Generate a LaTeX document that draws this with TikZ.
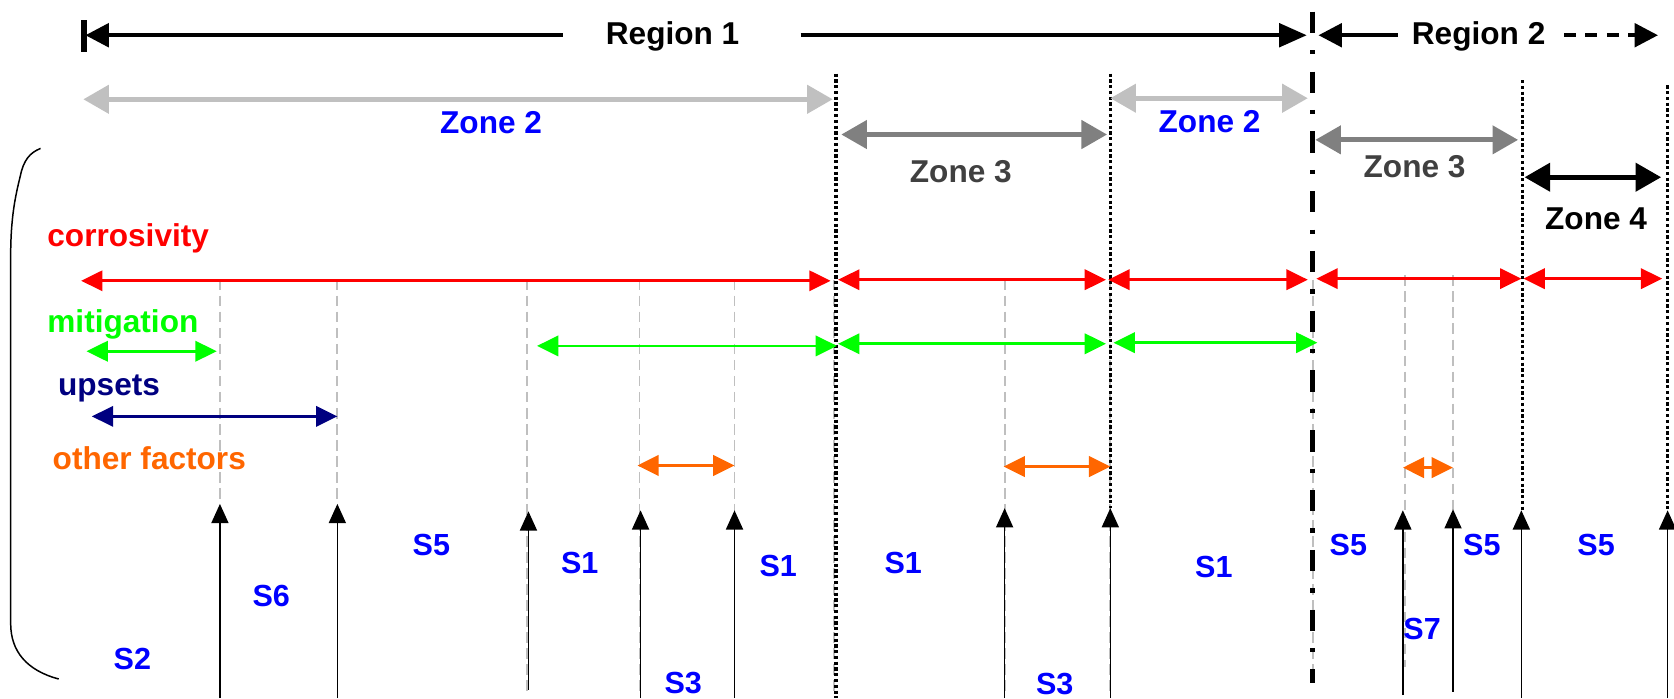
\documentclass[tikz,border=0pt]{standalone}
\usepackage{fontspec}
\setmainfont{Liberation Sans}
\usetikzlibrary{arrows.meta}
\definecolor{zlight}{HTML}{C0C0C0}
\definecolor{zmid}{HTML}{808080}
\definecolor{ztext}{HTML}{404040}
\definecolor{sblue}{HTML}{0000FF}
\definecolor{cred}{HTML}{FF0000}
\definecolor{cgreen}{HTML}{00FF00}
\definecolor{cnavy}{HTML}{000080}
\definecolor{corange}{HTML}{FF6600}
\definecolor{gdash}{HTML}{BFBFBF}
\begin{document}
\begin{tikzpicture}[x=0.5pt,y=-0.5pt,
  lbl/.style={font=\bfseries\fontsize{14.8}{17}\selectfont, inner sep=0pt},
  slbl/.style={font=\bfseries\fontsize{14.3}{17}\selectfont, inner sep=0pt, text=sblue},
  regline/.style={line width=1.9pt},
  zonearrow/.style={line width=2.4pt, {Triangle[length=12pt,width=13pt]}-{Triangle[length=12pt,width=13pt]}},
  factor/.style={line width=1.3pt, {Triangle[length=10pt,width=9.5pt]}-{Triangle[length=10pt,width=9.5pt]}},
  uparrow/.style={line width=0.7pt, -{Triangle[length=9pt,width=8pt]}},
  graydash/.style={draw=gdash, line width=0.9pt, dash pattern=on 5pt off 2.5pt},
  dotline/.style={line width=1.7pt, dash pattern=on 1.5pt off 1.2pt},
  divider/.style={line width=2.4pt, dash pattern=on 10pt off 8pt on 2pt off 8pt}
]
\useasboundingbox (0,0) rectangle (1568,654);

% gray dashed guides
\draw[graydash] (206,262) -- (206,470);
\draw[graydash] (316,262) -- (316,470);
\draw[graydash] (494,262) -- (494,648);
\draw[graydash] (599,262) -- (599,650);
\draw[graydash] (688,262) -- (688,650);
\draw[graydash] (781,262) -- (781,650);
\draw[graydash] (941,262) -- (941,650);
\draw[graydash] (1040,262) -- (1040,650);
\draw[graydash] (1230,262) -- (1230,640);
\draw[graydash] (1316,258) -- (1316,625);
\draw[graydash] (1361,258) -- (1361,625);

% dotted zone boundaries
\draw[dotline] (783,69) -- (783,654);
\draw[dotline] (1040,69) -- (1040,476);
\draw[dotline] (1426,75) -- (1426,478);
\draw[dotline] (1562,80) -- (1562,478);

% region divider
\draw[divider] (1229,11) -- (1229,640);

% region row
\draw[line width=3pt] (78.5,19) -- (78.5,49);
\node[lbl] (r1) at (630,34) {Region 1};
\draw[regline, {Triangle[length=11pt,width=11pt]}-] (80,33) -- (527,33);
\draw[regline, -{Triangle[length=13pt,width=11pt]}] (750,33) -- (1224,33);
\node[lbl] (r2) at (1385,34) {Region 2};
\draw[regline, {Triangle[length=11pt,width=11pt]}-] (1235,33) -- (1309,33);
\draw[regline, dash pattern=on 5.5pt off 4.5pt, -{Triangle[length=11pt,width=11pt]}] (1465,33) -- (1553,33);

% zones
\draw[zonearrow, draw=zlight, fill=zlight] (78,93) -- (780,93);
\node[lbl, text=sblue] (z2a) at (460,115) {Zone 2};
\draw[zonearrow, draw=zmid, fill=zmid] (788,126) -- (1037,126);
\node[lbl, text=ztext] (z3a) at (900,161) {Zone 3};
\draw[zonearrow, draw=zlight, fill=zlight] (1040,92) -- (1225,92);
\node[lbl, text=sblue] (z2b) at (1133,114) {Zone 2};
\draw[zonearrow, draw=zmid, fill=zmid] (1232,131) -- (1422,131);
\node[lbl, text=ztext] (z3b) at (1325,156) {Zone 3};
\draw[zonearrow, draw=black, fill=black] (1428,166) -- (1556,166);
\node[lbl] (z4) at (1495,205) {Zone 4};

% brace
\draw[line width=0.7pt] (38,139) .. controls (28,143) and (22,150) .. (19,165)
  .. controls (14,185) and (10,205) .. (10,240) -- (10,584)
  .. controls (10,610) and (25,628) .. (55,636);

% factor labels
\node[lbl, text=cred, anchor=west] (corr) at (44,223) {corrosivity};
\node[lbl, text=cgreen, anchor=west] (miti) at (44,304) {mitigation};
\node[lbl, text=cnavy, anchor=west] (ups) at (54,364) {upsets};
\node[lbl, text=corange, anchor=west] (oth) at (49,429) {other factors};

% corrosivity arrows
\draw[factor, draw=cred, fill=cred] (76,263) -- (778,263);
\draw[factor, draw=cred, fill=cred] (785,262) -- (1036,262);
\draw[factor, draw=cred, fill=cred] (1038,262) -- (1225,262);
\draw[factor, draw=cred, fill=cred] (1233,261) -- (1425,261);
\draw[factor, draw=cred, fill=cred] (1427,261) -- (1557,261);

% mitigation arrows
\draw[factor, draw=cgreen, fill=cgreen] (81,329) -- (203,329);
\draw[factor, draw=cgreen, fill=cgreen] (503,324) -- (784,324);
\draw[factor, draw=cgreen, fill=cgreen] (785,322) -- (1036,322);
\draw[factor, draw=cgreen, fill=cgreen] (1043,321) -- (1234,321);

% upsets
\draw[factor, draw=cnavy, fill=cnavy] (86,390) -- (316,390);

% other factors
\draw[factor, draw=corange, fill=corange, line width=1.6pt] (597,436) -- (688,436);
\draw[factor, draw=corange, fill=corange, line width=1.6pt] (940,437) -- (1040,437);
\draw[factor, draw=corange, fill=corange, line width=1.6pt] (1314,438) -- (1361,438);

% upward arrows
\draw[uparrow] (206,654) -- (206,472);
\draw[uparrow] (316,654) -- (316,472);
\draw[uparrow] (495,646) -- (495,479);
\draw[uparrow] (600,654) -- (600,478);
\draw[uparrow] (688,654) -- (688,478);
\draw[uparrow] (941,654) -- (941,476);
\draw[uparrow] (1040,654) -- (1040,476);
\draw[uparrow] (1314,651) -- (1314,478);
\draw[uparrow] (1361,648) -- (1361,477);
\draw[uparrow] (1425,654) -- (1425,478);
\draw[uparrow] (1562,654) -- (1562,478);

% segment labels
\node[slbl] (s2) at (124,617) {S2};
\node[slbl] (s6) at (254,558) {S6};
\node[slbl] (s5a) at (404,510) {S5};
\node[slbl] (s1a) at (543,527) {S1};
\node[slbl] (s3a) at (640,640) {S3};
\node[slbl] (s1b) at (729,530) {S1};
\node[slbl] (s1c) at (846,527) {S1};
\node[slbl] (s3b) at (988,641) {S3};
\node[slbl] (s1d) at (1137,531) {S1};
\node[slbl] (s5b) at (1263,510) {S5};
\node[slbl] (s7) at (1332,589) {S7};
\node[slbl] (s5c) at (1388,510) {S5};
\node[slbl] (s5d) at (1495,510) {S5};
\end{tikzpicture}
\end{document}
